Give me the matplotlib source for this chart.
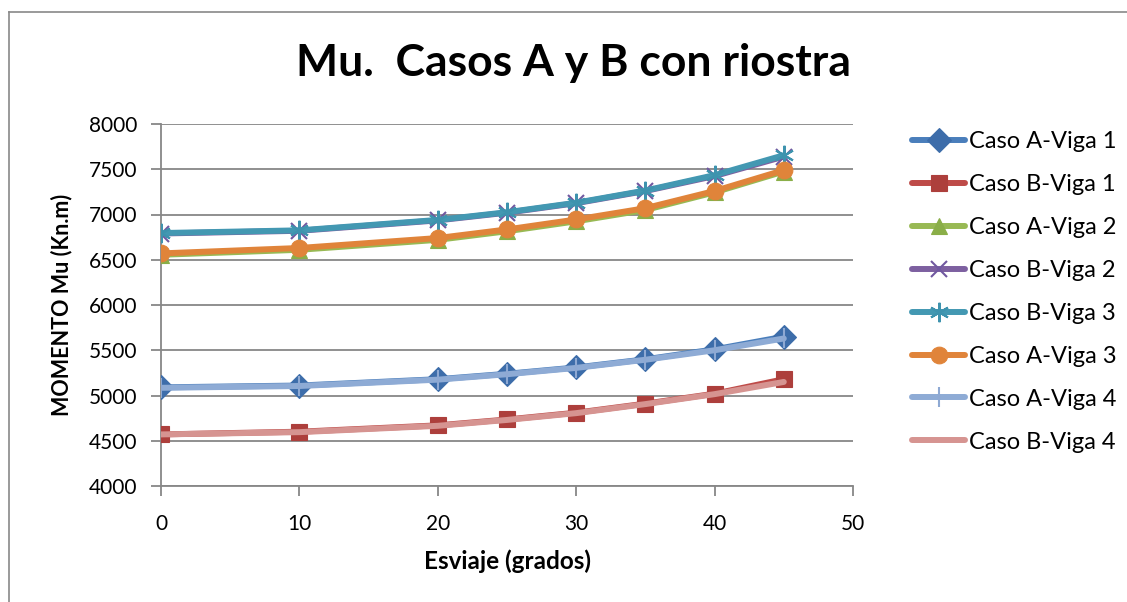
import matplotlib
matplotlib.use("Agg")
import matplotlib.pyplot as plt
from matplotlib.lines import Line2D

plt.rcParams['font.family'] = ['Lato', 'DejaVu Sans']

esviaje = [0, 10, 20, 25, 30, 35, 40, 45]

series_names = ["Caso A-Viga 1", "Caso B-Viga 1", "Caso A-Viga 2", "Caso B-Viga 2",
                "Caso B-Viga 3", "Caso A-Viga 3", "Caso A-Viga 4", "Caso B-Viga 4"]

a_viga1 = [5090, 5110, 5180, 5240, 5310, 5400, 5510, 5650]
b_viga1 = [4570, 4600, 4670, 4735, 4810, 4910, 5020, 5180]
a_viga2 = [6555, 6610, 6720, 6815, 6925, 7050, 7245, 7475]
b_viga2 = [6790, 6820, 6935, 7020, 7125, 7260, 7425, 7640]
b_viga3 = [6795, 6825, 6940, 7025, 7130, 7265, 7435, 7655]
a_viga3 = [6570, 6630, 6740, 6835, 6945, 7070, 7260, 7490]
a_viga4 = [5085, 5105, 5175, 5235, 5305, 5395, 5500, 5630]
b_viga4 = [4570, 4595, 4665, 4730, 4805, 4905, 5015, 5150]

values = [a_viga1, b_viga1, a_viga2, b_viga2, b_viga3, a_viga3, a_viga4, b_viga4]

line_colors = ["#4A7EBB", "#BE4B48", "#98B954", "#7D60A0",
               "#4398B2", "#E0843A", "#8EABD5", "#D69491"]
marker_faces = ["#3D6DAA", "#AD3F3C", "#8AAE48", "#7058A0",
                "#3E93AE", "#E0843A", "#8EA9D3", "#D69491"]
markers = ["D", "s", "^", "x", (6, 2, 0), "o", "|", None]
msizes = [12.5, 11.5, 12, 12, 14, 12, 14, 0]

W, H = 1127, 602
fig = plt.figure(figsize=(W / 100, H / 100), dpi=100)

ax = fig.add_axes([161 / W, 1 - 486 / H, (853 - 161) / W, (486 - 124) / H])

handles = []
for i, (name, vals) in enumerate(zip(series_names, values)):
    m = markers[i]
    kw = dict(color=line_colors[i], lw=4.3, solid_capstyle='round', zorder=3 + i, label=name)
    if m is not None:
        kw.update(marker=m, markersize=msizes[i], markerfacecolor=marker_faces[i],
                  markeredgecolor=marker_faces[i],
                  markeredgewidth=1.5 if m in ("x", "|", (6, 2, 0)) else 0.8)
    ln, = ax.plot(esviaje, vals, **kw)
    handles.append(ln)

ax.set_xlim(0, 50)
ax.set_ylim(4000, 8000)
ax.set_xticks(range(0, 51, 10))
ax.set_yticks(range(4000, 8001, 500))
ax.grid(axis='y', color='#878787', lw=1.3)
ax.set_axisbelow(True)
for s in ['top', 'right']:
    ax.spines[s].set_visible(False)
for s in ['left', 'bottom']:
    ax.spines[s].set_color('#878787')
    ax.spines[s].set_linewidth(1.3)
ax.tick_params(axis='both', direction='out', length=7, width=1.3, color='#878787',
               labelsize=15, labelcolor='black')
ax.tick_params(axis='y', pad=10)
ax.tick_params(axis='x', pad=13)

ax.set_ylabel("MOMENTO Mu (Kn.m)", fontsize=15.5, fontweight='bold', labelpad=12)
ax.set_xlabel("Esviaje (grados)", fontsize=17.5, fontweight='bold', labelpad=11)

fig.text(574 / W, 1 - 63 / H, "Mu.  Casos A y B con riostra", ha='center', va='center',
         fontsize=32, fontweight='bold')

leg = fig.legend(handles=handles, loc='upper left', bbox_to_anchor=(912 / W, 1 - 131 / H),
                 frameon=False, fontsize=17, handlelength=2.25, handletextpad=0.15,
                 labelspacing=0.93, borderpad=0, borderaxespad=0)

# chart frame (left and top edges visible)
fig.add_artist(Line2D([8.5 / W, 8.5 / W], [0, 1 - 11.5 / H], transform=fig.transFigure,
                      color='#898989', lw=1.2))
fig.add_artist(Line2D([8.5 / W, 1], [1 - 11.5 / H, 1 - 11.5 / H], transform=fig.transFigure,
                      color='#898989', lw=1.2))

fig.savefig("out.png", dpi=100)
